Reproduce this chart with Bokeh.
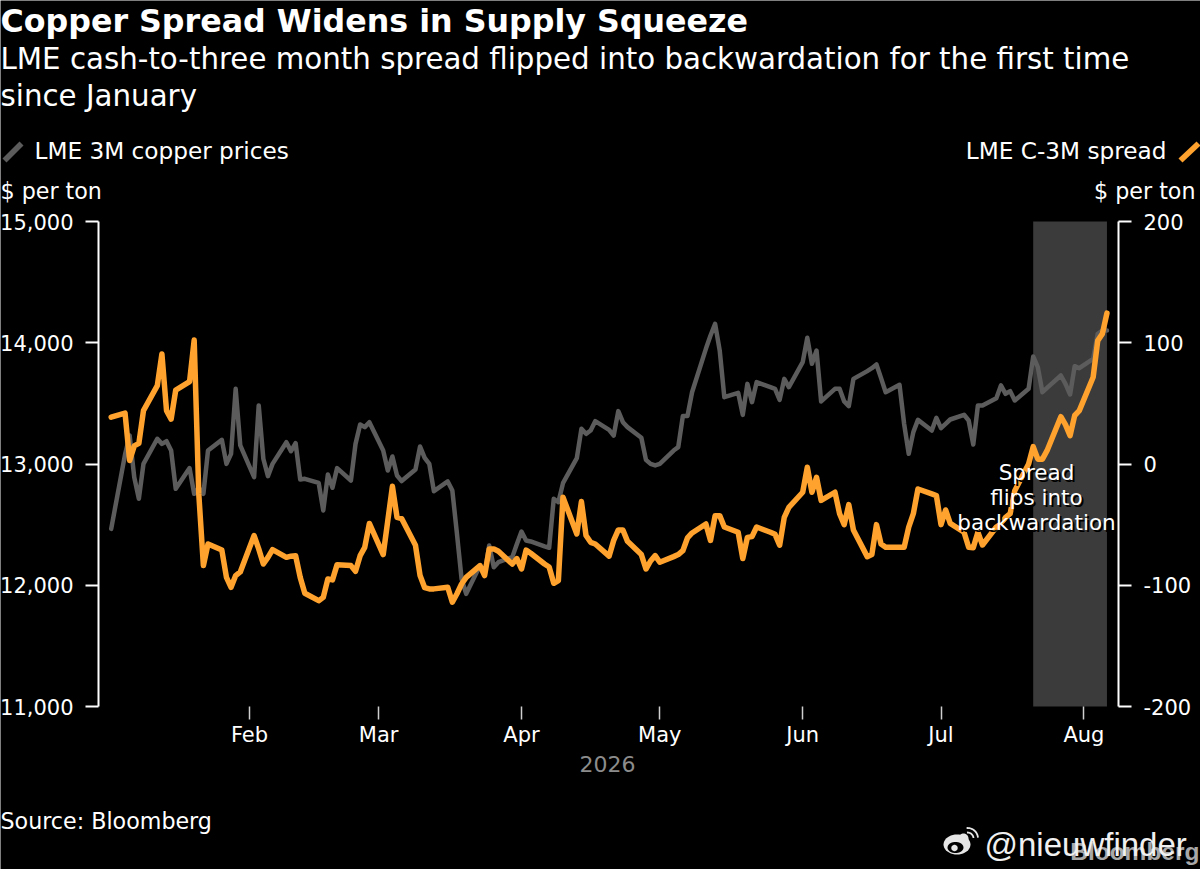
import math
import pandas as pd
from bokeh.embed import file_html
from bokeh.models import (BoxAnnotation, ColumnDataSource, FixedTicker, Label,
                          LinearAxis, NumeralTickFormatter, PolyAnnotation, Range1d)
from bokeh.plotting import figure
from bokeh.resources import INLINE

title_text = "Copper Spread Widens in Supply Squeeze"
subtitle_lines = ["LME cash-to-three month spread flipped into backwardation for the first time", "since January"]
series_names = ["LME 3M copper prices", "LME C-3M spread"]
unit_label = "$ per ton"
month_ticks = ["2026-02-01", "2026-03-01", "2026-04-01", "2026-05-01", "2026-06-01", "2026-07-01", "2026-08-01"]
month_labels = ["Feb", "Mar", "Apr", "May", "Jun", "Jul", "Aug"]
price_ticks = [11000, 12000, 13000, 14000, 15000]
spread_ticks = [-200, -100, 0, 100, 200]
band_dates = ["2026-07-21", "2026-08-06"]
note_lines = ["Spread", "flips into", "backwardation"]
trading_dates = pd.bdate_range("2026-01-02", "2026-08-06")

copper_prices = [12465,
    13078,13235,12891,12713,13001, 13208,13166,13188,13111,12795, 12966,12754,12804,12754,13111,
    13199,13001,13084,13620,13153, 12891,13483,13043,12900,13001, 13180,13106,13172,12872,12878,
    12845,12617,12913,12804,12966, 12864,13166,13326,13304,13345, 13111,12946,13062,12905,12859,
    12955,13144,13051,13001,12776, 12856,12782,12424,12053,11929, 12163,12094,12328,12149,12190,
    12232,12341,12443,12369,12361, 12320,12309,12713,12685,12842, 13048,13290,13249,13276,13353,
    13282,13235,13436,13345,13304, 13216,13034,13001,12988,13001, 13111,13139,13395,13395,13592,
    13950,14060,14156,13936,13551, 13587,13405,13661,13510,13675, 13634,13620,13529,13702,13634,
    13840,14041,13826,13936,13516, 13620,13620,13516,13477,13702, 13766,13790,13821,13708,13592,
    13653,13331,13084,13263,13364, 13276,13381,13296,13331,13367, 13406,13359,13161,13482,13482,
    13543,13648,13579,13601,13524, 13620,13887,13799,13592,13628, 13730,13661,13573,13807,13790,
    13867,14074,14101,14101]

cash_3m_spread = [38.6,
    42,2.8,15,17,44, 64.7,90.8,44,37,61, 68,102.3,-24.7,-83.8,-66,
    -71,-93.5,-101.7,-92,-89, -59,-70,-82.5,-77,-70.6, -77,-76,-75.6,-93.5,-106.6,
    -112.7,-110,-94.8,-95.6,-83, -83.8,-88.5,-75.6,-68.7,-49, -74.7,-46.7,-18.4,-44,-45,
    -67,-92,-102,-103,-103, -101.7,-114,-107,-99,-93.5, -83.8,-92,-70,-70,-72,
    -82.5,-78,-86.6,-71,-73.6, -82.5,-85,-98.4,-96.2,-27.4, -57.7,-31,-59,-64.6,-66,
    -76,-63,-54.4,-54.4,-63.8, -74.7,-86.6,-80,-75.6,-81, -76.4,-74.7,-71.5,-61,-56.9,
    -49.5,-63,-42.6,-42.6,-52, -56.3,-78,-60.5,-59.9,-52, -56.3,-58,-67,-44,-35.7,
    -23.3,-2.7,-23.3,-11,-30, -23.3,-41,-50,-33.5,-54.4, -76.4,-74.7,-50,-66,-68.7,
    -68.7,-68.7,-52,-41,-20.6, -24.7,-26,-50,-37.9,-49, -56.3,-68.7,-69,-56.3,-66.8,
    -52,-49.5,-44,-41,-22, 0,14.3,4,4,11, 39,32.5,23.4,40,44,
    71.5,101.8,107.3,124.4]

W, H = 1200, 869
FONT = "DejaVu Sans"
WATERMARK_FONT = "Liberation Sans"
BG = "#000000"
GREY = "#5c5c5c"
ORANGE = "#ffa32e"
day_ms = 86400000
px_per_day = 4.61
feb_px = 249
top_px, bottom_px, left_px, right_px = 221, 706, 98, 1118


def ms(ts):
    return pd.Timestamp(ts).value / 1e6


def x_at(px):
    return ms("2026-02-01") + (px - feb_px) / px_per_day * day_ms


price_per_px = (15000 - 11000) / (bottom_px - top_px)
spread_per_px = 400 / (bottom_px - top_px)

source = ColumnDataSource(dict(date=trading_dates, copper=copper_prices, spread=cash_3m_spread))

p = figure(width=W, height=H, output_backend="svg", toolbar_location=None,
           x_axis_type="datetime", x_range=Range1d(x_at(0), x_at(W)),
           y_range=Range1d(11000 - (H - bottom_px) * price_per_px, 15000 + top_px * price_per_px),
           background_fill_color=BG, border_fill_color=BG, outline_line_color=None,
           min_border=0, styles={"position": "absolute", "left": "0px", "top": "0px"})
p.grid.visible = False
p.extra_y_ranges = {"spread": Range1d(-200 - (H - bottom_px) * spread_per_px, 200 + top_px * spread_per_px)}

p.add_layout(BoxAnnotation(left=ms(band_dates[0]), right=ms(band_dates[1]), bottom=11000, top=15000,
                           fill_color="#3b3b3b", fill_alpha=1, line_color=None, level="underlay"))
p.line("date", "copper", source=source, line_color=GREY, line_width=4.5, line_join="round", line_cap="round")
p.line("date", "spread", source=source, y_range_name="spread", line_color=ORANGE, line_width=5.5,
       line_join="round", line_cap="round")


def style_y(ax):
    ax.axis_line_color = "#ffffff"
    ax.axis_line_width = 2
    ax.major_tick_line_color = "#ffffff"
    ax.major_tick_line_width = 2
    ax.major_tick_out = 13
    ax.major_tick_in = 0
    ax.minor_tick_line_color = None
    ax.major_label_text_color = "#ffffff"
    ax.major_label_text_font = FONT
    ax.major_label_text_font_size = "21px"
    ax.major_label_standoff = 12


left = p.yaxis[0]
left.ticker = FixedTicker(ticks=price_ticks)
left.formatter = NumeralTickFormatter(format="0,0")
left.fixed_location = x_at(left_px)
left.bounds = (11000, 15000)
style_y(left)
right = LinearAxis(y_range_name="spread", ticker=FixedTicker(ticks=spread_ticks),
                   formatter=NumeralTickFormatter(format="0"), fixed_location=x_at(right_px), bounds=(-200, 200))
style_y(right)
p.add_layout(right, "right")

bottom = p.xaxis[0]
bottom.fixed_location = 11000
bottom.ticker = FixedTicker(ticks=[ms(d) for d in month_ticks])
bottom.major_label_overrides = {ms(d): l for d, l in zip(month_ticks, month_labels)}
bottom.axis_line_color = None
bottom.major_tick_line_color = "#cfcfcf"
bottom.major_tick_line_width = 1.5
bottom.major_tick_out = 13
bottom.major_tick_in = 0
bottom.minor_tick_line_color = None
bottom.major_label_text_color = "#ffffff"
bottom.major_label_text_font = FONT
bottom.major_label_text_font_size = "21px"
bottom.major_label_standoff = 3


def text(t, x, y, size, color="#ffffff", style="normal", align="left", font=FONT):
    p.add_layout(Label(x=x, y=H - y, x_units="screen", y_units="screen", text=t,
                       text_font=font, text_font_size=f"{size}px", text_color=color,
                       text_font_style=style, text_align=align, text_baseline="middle"))


def poly(xs, ys, color):
    p.add_layout(PolyAnnotation(xs=list(xs), ys=[H - v for v in ys], xs_units="screen", ys_units="screen",
                                fill_color=color, fill_alpha=1, line_color=None))


def ellipse(cx, cy, rx, ry, color):
    ts = [2 * math.pi * i / 40 for i in range(40)]
    poly([cx + rx * math.cos(t) for t in ts], [cy + ry * math.sin(t) for t in ts], color)


def arc(cx, cy, r, w, color):
    ts = [math.radians(-5 - 90 * i / 16) for i in range(17)]
    xs = [cx + (r + w / 2) * math.cos(t) for t in ts] + [cx + (r - w / 2) * math.cos(t) for t in reversed(ts)]
    ys = [cy + (r + w / 2) * math.sin(t) for t in ts] + [cy + (r - w / 2) * math.sin(t) for t in reversed(ts)]
    poly(xs, ys, color)


text(title_text, 0, 20, 31.7, style="bold")
text(subtitle_lines[0], 0, 58, 29.3)
text(subtitle_lines[1], 0, 95, 29.3)
text(series_names[0], 34, 150, 23.2)
text(series_names[1], 1166, 150, 23.2, align="right")
text(unit_label, 0, 190, 22.2)
text(unit_label, 1195, 190, 22.2, align="right")
for line, y in zip(note_lines, (472, 497, 522)):
    text(line, 1038, y + 2, 21.5, color="#000000", align="center")
    text(line, 1036, y, 21.5, align="center")
text("2026", 607, 763, 22, color="#8c8c8c", align="center")
text("Source: Bloomberg", 0, 820, 22.2)
text("Bloomberg", 1199, 851, 24.5, color="#a8a8a8", align="right", style="bold", font=WATERMARK_FONT)
text("@nieuwfinder", 984, 844, 33, font=WATERMARK_FONT, color="#f0f0f0")

LOGO = "#e6e6e6"
ellipse(956.5, 844, 13.5, 10, LOGO)
ellipse(963, 838, 5, 5, LOGO)
ellipse(955, 847, 8, 5.5, "#000000")
ellipse(954, 847.5, 3.2, 3.2, LOGO)
arc(967, 838, 6, 1.8, LOGO)
arc(967, 838, 10.5, 1.8, LOGO)

poly((2, 6, 23, 19), (158, 162, 145, 141), GREY)
poly((1178, 1182, 1200, 1196), (158, 162, 145, 141), ORANGE)

open("out.html", "w").write(file_html(p, INLINE))
